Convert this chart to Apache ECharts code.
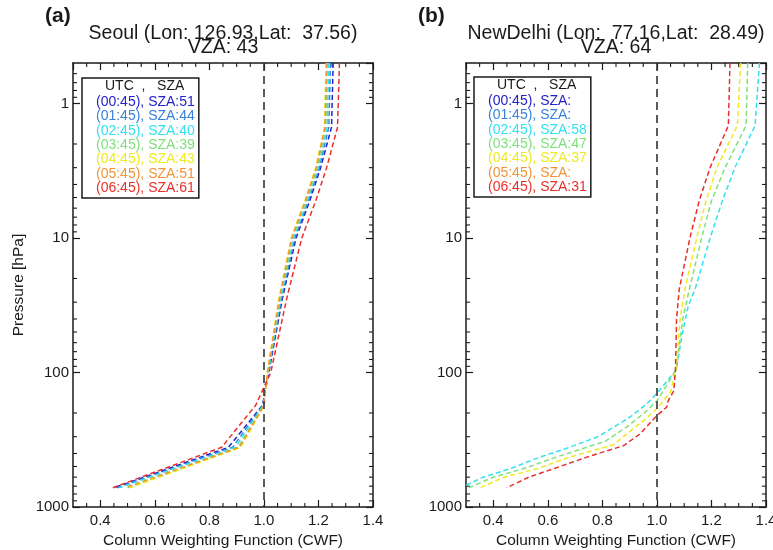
<!DOCTYPE html>
<html>
<head>
<meta charset="utf-8">
<script src="https://cdn.jsdelivr.net/npm/echarts@6/dist/echarts.min.js"></script>
<style>
  html, body { margin: 0; padding: 0; background: #fff; }
  #main { width: 773px; height: 550px; }
</style>
</head>
<body>
<div id="main"></div>
<script>
// CWF profiles (x = CWF, y = pressure in hPa)

var FONT = 'Liberation Sans, Arial, sans-serif';
var INK = '#1a1a1a';

var utcTimes = ['(00:45)', '(01:45)', '(02:45)', '(03:45)', '(04:45)', '(05:45)', '(06:45)'];
var seoulSza = ['51', '44', '40', '39', '43', '51', '61'];
var delhiSza = ['', '', '58', '47', '37', '', '31'];
var lineColors = ['#2323c8', '#3a82d8', '#33e0ee', '#80e07c', '#f0ea1e', '#f09438', '#e8302a'];

// Seoul: shared pressure levels
var seoulPres = [0.5, 1.5, 3, 5.3, 10, 28, 100, 175, 360, 720];
var seoulCwf0045 = [1.254, 1.248, 1.208, 1.168, 1.118, 1.068, 1.018, 0.995, 0.870, 0.450];
var seoulCwf0145 = [1.244, 1.238, 1.203, 1.163, 1.113, 1.065, 1.016, 0.996, 0.885, 0.460];
var seoulCwf0245 = [1.238, 1.232, 1.199, 1.159, 1.109, 1.062, 1.015, 0.998, 0.895, 0.470];
var seoulCwf0345 = [1.233, 1.227, 1.195, 1.155, 1.105, 1.059, 1.014, 1.000, 0.905, 0.500];
var seoulCwf0445 = [1.228, 1.222, 1.190, 1.150, 1.100, 1.055, 1.012, 1.002, 0.915, 0.510];
var seoulCwf0545 = [1.230, 1.224, 1.192, 1.152, 1.102, 1.057, 1.013, 1.000, 0.910, 0.490];
var seoulCwf0645 = [1.277, 1.270, 1.230, 1.190, 1.139, 1.084, 1.025, 0.970, 0.845, 0.445];

// New Delhi: [CWF, pressure] pairs, empty where no SZA
var delhi0045 = [];
var delhi0145 = [];
var delhi0245 = [[1.376, 0.5], [1.360, 1.46], [1.286, 3], [1.240, 5.3], [1.195, 10], [1.140, 24], [1.115, 32],
                 [1.090, 55], [1.072, 95], [1.000, 143], [0.963, 171], [0.901, 215], [0.791, 294], [0.779, 303],
                 [0.681, 359], [0.571, 426], [0.461, 520], [0.363, 600], [0.280, 720]];
var delhi0345 = [[1.333, 0.5], [1.327, 1.46], [1.250, 3], [1.200, 5.3], [1.164, 10], [1.119, 24], [1.095, 40],
                 [1.071, 95], [1.035, 125], [1.000, 162], [0.960, 195], [0.900, 245], [0.810, 325],
                 [0.630, 426], [0.510, 520], [0.400, 600], [0.310, 720]];
var delhi0445 = [[1.307, 0.5], [1.295, 1.46], [1.220, 3], [1.180, 5.3], [1.146, 10], [1.103, 24], [1.085, 40],
                 [1.070, 95], [1.050, 140], [1.000, 185], [0.955, 225], [0.900, 275], [0.840, 345],
                 [0.680, 426], [0.560, 520], [0.440, 600], [0.350, 720]];
var delhi0545 = [];
var delhi0645 = [[1.268, 0.5], [1.262, 1.46], [1.195, 3], [1.155, 5.3], [1.121, 10], [1.082, 24], [1.072, 40],
                 [1.068, 95], [1.062, 137], [1.042, 161], [1.036, 181], [1.000, 209], [0.938, 286], [0.879, 349],
                 [0.743, 426], [0.620, 520], [0.530, 600], [0.449, 720]];

var cwfMin = 0.3, cwfMax = 1.4;
var presMin = 0.5, presMax = 1000;
var cwfMinorTicks = [0.35, 0.45, 0.5, 0.55, 0.65, 0.7, 0.75, 0.85, 0.9, 0.95, 1.05, 1.1, 1.15, 1.25, 1.3, 1.35];
var presMinorTicks = [0.6, 0.7, 0.8, 0.9, 2, 3, 4, 5, 6, 7, 8, 9, 20, 30, 40, 50, 60, 70, 80, 90,
                      200, 300, 400, 500, 600, 700, 800, 900];

var seoulCwf = [seoulCwf0045, seoulCwf0145, seoulCwf0245, seoulCwf0345, seoulCwf0445, seoulCwf0545, seoulCwf0645];
var delhiPairs = [delhi0045, delhi0145, delhi0245, delhi0345, delhi0445, delhi0545, delhi0645];

var chart = echarts.init(document.getElementById('main'));

var grids = [
    {left: 73, top: 63, width: 300, height: 444, containLabel: false, outerBoundsMode: 'none'},
    {left: 466, top: 63, width: 300, height: 444, containLabel: false, outerBoundsMode: 'none'}
];

function xAxes(gridIndex) {
    var base = {
        type: 'value', gridIndex: gridIndex, min: cwfMin, max: cwfMax,
        axisLine: {show: true, onZero: false, lineStyle: {color: INK, width: 1.5}},
        axisTick: {show: true, inside: true, length: 7, lineStyle: {color: INK, width: 1.2}},
        splitLine: {show: false}
    };
    var bottom = echarts.util.merge({
        position: 'bottom',
        name: 'Column Weighting Function (CWF)',
        nameLocation: 'middle', nameGap: 22,
        nameTextStyle: {fontFamily: FONT, fontSize: 15.5, color: INK},
        axisLabel: {show: true, showMinLabel: false, margin: 6, fontFamily: FONT, fontSize: 15, color: INK,
            formatter: function (v) { return v.toFixed(1); }}
    }, base, true);
    var top = echarts.util.merge({position: 'top', axisLabel: {show: false}}, base, true);
    return [bottom, top];
}

function yAxes(gridIndex, withName) {
    var base = {
        type: 'log', gridIndex: gridIndex, min: presMin, max: presMax, inverse: true, logBase: 10,
        axisLine: {show: true, onZero: false, lineStyle: {color: INK, width: 1.5}},
        axisTick: {show: true, inside: true, length: 7, lineStyle: {color: INK, width: 1.2}},
        splitLine: {show: false}
    };
    var left = echarts.util.merge({
        position: 'left',
        axisLabel: {show: true, showMinLabel: false, margin: 4, fontFamily: FONT, fontSize: 15, color: INK,
            formatter: function (v) { return String(Math.round(v)); }}
    }, base, true);
    if (withName) {
        left.name = 'Pressure [hPa]';
        left.nameLocation = 'middle';
        left.nameGap = 46;
        left.nameTextStyle = {fontFamily: FONT, fontSize: 15.5, color: INK};
    }
    var right = echarts.util.merge({position: 'right', axisLabel: {show: false}}, base, true);
    return [left, right];
}

function minorTickSeries(axisIndex) {
    var tickStyle = {stroke: INK, lineWidth: 1.1};
    return [{
        type: 'custom', name: 'xminor' + axisIndex, silent: true, clip: false,
        xAxisIndex: axisIndex * 2, yAxisIndex: axisIndex * 2,
        data: cwfMinorTicks.map(function (v) { return [v, 1]; }),
        renderItem: function (params, api) {
            var cs = params.coordSys;
            var px = api.coord([api.value(0), 1])[0];
            return {type: 'group', children: [
                {type: 'line', shape: {x1: px, y1: cs.y + cs.height, x2: px, y2: cs.y + cs.height - 4}, style: tickStyle},
                {type: 'line', shape: {x1: px, y1: cs.y, x2: px, y2: cs.y + 4}, style: tickStyle}
            ]};
        }
    }, {
        type: 'custom', name: 'yminor' + axisIndex, silent: true, clip: false,
        xAxisIndex: axisIndex * 2, yAxisIndex: axisIndex * 2,
        data: presMinorTicks.map(function (p) { return [1, p]; }),
        renderItem: function (params, api) {
            var cs = params.coordSys;
            var py = api.coord([1, api.value(1)])[1];
            return {type: 'group', children: [
                {type: 'line', shape: {x1: cs.x, y1: py, x2: cs.x + 4, y2: py}, style: tickStyle},
                {type: 'line', shape: {x1: cs.x + cs.width, y1: py, x2: cs.x + cs.width - 4, y2: py}, style: tickStyle}
            ]};
        }
    }];
}

var refLine = {
    silent: true, symbol: 'none', label: {show: false},
    lineStyle: {color: '#333', width: 1.6, type: [8, 5]},
    data: [{xAxis: 1.0}]
};

var series = [];
var legendA = [], legendB = [];

seoulCwf.forEach(function (vals, i) {
    var name = utcTimes[i] + ', SZA:' + seoulSza[i];
    legendA.push({name: name, textStyle: {color: lineColors[i]}});
    var s = {
        type: 'line', name: name, xAxisIndex: 0, yAxisIndex: 0,
        data: seoulPres.map(function (p, j) { return [vals[j], p]; }),
        symbol: 'none', silent: true,
        itemStyle: {color: lineColors[i]},
        lineStyle: {color: lineColors[i], width: 1.5, type: [5, 3]}
    };
    if (i === 6) s.markLine = refLine;
    series.push(s);
});

delhiPairs.forEach(function (pairs, i) {
    var name = utcTimes[i] + ', SZA:' + delhiSza[i];
    legendB.push({name: name, textStyle: {color: lineColors[i]}});
    var s = {
        type: 'line', name: name, xAxisIndex: 2, yAxisIndex: 2,
        data: pairs,
        symbol: 'none', silent: true,
        itemStyle: {color: lineColors[i]},
        lineStyle: {color: lineColors[i], width: 1.5, type: [5, 3]}
    };
    if (i === 6) s.markLine = refLine;
    series.push(s);
});

series = series.concat(minorTickSeries(0), minorTickSeries(1));

function legendBox(left, top, data) {
    return {
        show: true, orient: 'vertical', left: left, top: top,
        itemWidth: 0, itemHeight: 0, itemGap: 0,
        padding: [17, 4, 3, 9],
        borderColor: INK, borderWidth: 1.5,
        selectedMode: false, icon: 'rect',
        textStyle: {fontFamily: FONT, fontSize: 14, lineHeight: 14.3},
        data: data
    };
}

var option = {
    animation: false,
    backgroundColor: '#fff',
    textStyle: {fontFamily: FONT},
    title: [
        {text: '(a)', left: 45, top: 6, padding: 0,
            textStyle: {fontFamily: FONT, fontSize: 21, fontWeight: 'bold', color: INK}},
        {text: 'Seoul (Lon: 126.93,Lat:  37.56)\nVZA: 43', left: 223, top: 26, padding: 0, textAlign: 'center',
            textStyle: {fontFamily: FONT, fontSize: 19.5, fontWeight: 'normal', lineHeight: 14.5, color: INK}},
        {text: '(b)', left: 418, top: 6, padding: 0,
            textStyle: {fontFamily: FONT, fontSize: 21, fontWeight: 'bold', color: INK}},
        {text: 'NewDelhi (Lon:  77.16,Lat:  28.49)\nVZA: 64', left: 616, top: 26, padding: 0, textAlign: 'center',
            textStyle: {fontFamily: FONT, fontSize: 19.5, fontWeight: 'normal', lineHeight: 14.5, color: INK}}
    ],
    legend: [legendBox(82, 78, legendA), legendBox(474, 77, legendB)],
    graphic: [
        {type: 'text', left: 105, top: 79, silent: true,
            style: {text: 'UTC  ,   SZA', fontFamily: FONT, fontSize: 14, fill: INK}},
        {type: 'text', left: 497, top: 78, silent: true,
            style: {text: 'UTC  ,   SZA', fontFamily: FONT, fontSize: 14, fill: INK}}
    ],
    grid: grids,
    xAxis: xAxes(0).concat(xAxes(1)),
    yAxis: yAxes(0, true).concat(yAxes(1, false)),
    series: series
};

chart.setOption(option);
</script>
</body>
</html>
